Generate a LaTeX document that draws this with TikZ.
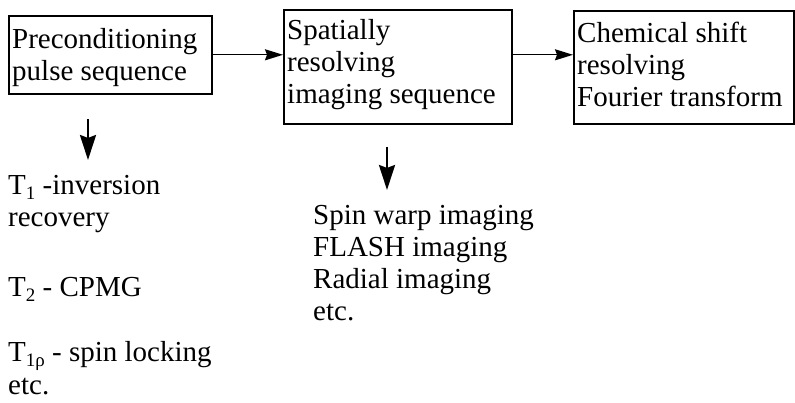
\documentclass[tikz,border=0pt]{standalone}
\usepackage{fontspec}
\setmainfont{Liberation Serif}
\usetikzlibrary{arrows.meta}
\newcommand\lowsub[1]{\raisebox{-0.4ex}{\fontsize{19}{19}\selectfont #1}}
\begin{document}
\begin{tikzpicture}[x=1pt,y=1pt,
  box/.style={draw, line width=1.6pt, inner sep=0pt, anchor=north west},
  txt/.style={inner sep=0pt, anchor=north west, align=left,
    font=\fontsize{29}{32}\selectfont},
  harrow/.style={line width=1.4pt, -{Stealth[length=18pt,width=11pt,inset=2pt]}},
  varrow/.style={line width=2.6pt, -{Stealth[length=25pt,width=16pt,inset=3pt]}}]
\useasboundingbox (0,0) rectangle (795,-403);
% boxes
\node[box, minimum width=203pt, minimum height=78pt] (b1) at (8,-15) {};
\node[box, minimum width=228pt, minimum height=114pt] (b2) at (283,-9) {};
\node[box, minimum width=220pt, minimum height=113pt] (b3) at (573,-10) {};
% box texts
\node[txt] (t1) at (12,-28) {Preconditioning\\pulse sequence};
\node[txt] (t2) at (287,-19) {Spatially\\resolving\\imaging sequence};
\node[txt] (t3) at (577,-22) {Chemical shift\\resolving\\Fourier transform};
% lower texts
\node[txt] (l1) at (8,-175) {T\lowsub{1} -inversion\\recovery};
\node[txt] (l2) at (8,-277) {T\lowsub{2} - CPMG};
\node[txt, font=\fontsize{29}{33}\selectfont] (l3) at (8,-341) {T\lowsub{1ρ} - spin locking\\etc.};
\node[txt] (r1) at (313,-205) {Spin warp imaging\\FLASH imaging\\Radial imaging\\etc.};
% connectors
\draw[harrow] (b1.east) -- (b1.east -| b2.west);
\draw[harrow] (b2.east |- b1.east) -- (b3.west |- b1.east);
\coordinate (d1s) at (88,-119);
\coordinate (d1e) at (88,-160);
\coordinate (d2s) at (387,-147);
\coordinate (d2e) at (387,-190);
\draw[varrow] (d1s) -- (d1e);
\draw[varrow] (d2s) -- (d2e);
\end{tikzpicture}
\end{document}
